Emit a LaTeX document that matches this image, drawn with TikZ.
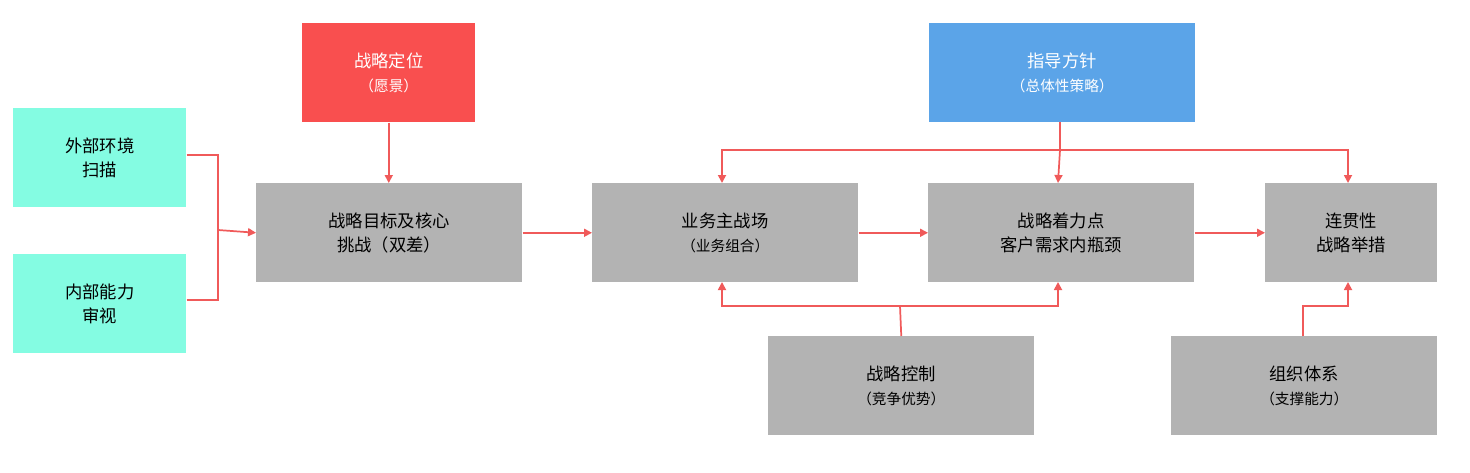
\documentclass[tikz,border=0pt]{standalone}
\usepackage{fontspec}
\setmainfont{Noto Sans CJK SC}
\usetikzlibrary{arrows.meta}
\definecolor{gr}{HTML}{B3B3B3}
\definecolor{cy}{HTML}{84FCE2}
\definecolor{rd}{HTML}{F94F4F}
\definecolor{bl}{HTML}{5BA4E8}
\definecolor{lnc}{HTML}{F05A5A}
\newcommand{\smalltxt}{\fontsize{11}{14}\selectfont}
\begin{document}
\begin{tikzpicture}[x=0.75pt,y=-0.75pt,
 box/.style={draw=none,minimum width=#1*0.75pt,minimum height=99*0.75pt,align=center,font=\fontsize{13}{18}\selectfont,anchor=north west,inner sep=0pt},
 ar/.style={lnc,line width=1.3pt,-{Triangle[length=6pt,width=6pt]}},
 ln/.style={lnc,line width=1.3pt}]
\useasboundingbox (0,0) rectangle (1470,472);
\node[box=173,fill=cy] (ext) at (13,108) {外部环境\\扫描};
\node[box=173,fill=cy] (int) at (13,254) {内部能力\\审视};
\node[box=173,fill=rd,text=white] (pos) at (302,23) {战略定位\\{\smalltxt （愿景）}};
\node[box=266,fill=gr] (goal) at (256,183) {战略目标及核心\\挑战（双差）};
\node[box=266,fill=gr] (biz) at (592,183) {业务主战场\\{\smalltxt （业务组合）}};
\node[box=266,fill=gr] (foc) at (928,183) {战略着力点\\客户需求内瓶颈};
\node[box=172,fill=gr] (con) at (1265,183) {连贯性\\战略举措};
\node[box=266,fill=bl,text=white] (gui) at (929,23) {指导方针\\{\smalltxt （总体性策略）}};
\node[box=266,fill=gr] (ctl) at (768,336) {战略控制\\{\smalltxt （竞争优势）}};
\node[box=266,fill=gr] (org) at (1171,336) {组织体系\\{\smalltxt （支撑能力）}};
\coordinate (j) at (218,230);
\draw[ln] (ext.east|-0,155) -- (218,155) -- (j);
\draw[ln] (int.east|-0,300) -- (218,300) -- (j);
\draw[ar] (j) -- (goal.west);
\draw[ar] (pos.south) -- (goal.north-|pos.south);
\draw[ar] (goal.east) -- (biz.west);
\draw[ar] (biz.east) -- (foc.west);
\draw[ar] (foc.east) -- (con.west);
\coordinate (g) at (1060,150);
\draw[ln] (1060,122) -- (g);
\draw[ar] (g) -- (1058,183);
\draw[ar] (g) -- (722,150) -- (722,183);
\draw[ar] (g) -- (1348,150) -- (1348,183);
\coordinate (c) at (900,306);
\draw[ln] (ctl.north) -- (c);
\draw[ar] (c) -- (722,306) -- (722,282);
\draw[ar] (c) -- (1058,306) -- (1058,282);
\draw[ar] (org.north-|1303,0) -- (1303,306) -- (1348,306) -- (1348,282);
\end{tikzpicture}
\end{document}
